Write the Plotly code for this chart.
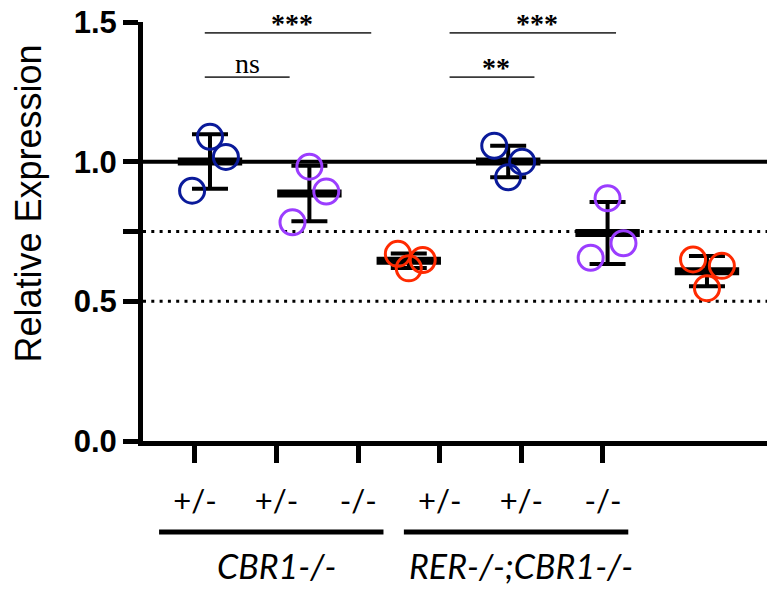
import numpy as np
import plotly.graph_objects as go

# ---- data -------------------------------------------------------------
genotypes = ["+/-", "+/-", "-/-", "+/-", "+/-", "-/-"]
backgrounds = ["CBR1-/-", "RER-/-;CBR1-/-"]
background_members = [[1, 2, 3], [4, 5, 6]]

g1 = [1.089, 1.017, 0.896]
g2 = [0.982, 0.893, 0.783]
g3 = [0.670, 0.648, 0.618]
g4 = [1.057, 1.000, 0.944]
g5 = [0.869, 0.708, 0.656]
g6 = [0.650, 0.627, 0.547]
groups = [g1, g2, g3, g4, g5, g6]

# horizontal spread of the replicate points inside each column
jitter = [
    [0.0, 0.16, -0.18],
    [0.0, 0.17, -0.17],
    [-0.11, 0.14, 0.0],
    [-0.14, 0.14, 0.0],
    [0.0, 0.16, -0.17],
    [-0.14, 0.15, 0.0],
]
group_colors = ["#0a1a9a", "#9b3dff", "#ff2a00", "#0a1a9a", "#9b3dff", "#ff2a00"]

# significance comparisons: (first column, last column, bar height, label)
comparisons = [
    (1, 3, 1.461, "***"),
    (1, 2, 1.303, "ns"),
    (4, 6, 1.461, "***"),
    (4, 5, 1.303, "**"),
]

ref_solid = [1.0]
ref_dotted = [0.75, 0.5]

y_ticks = [0.0, 0.5, 0.75, 1.0, 1.5]
y_ticktext = ["0.0", "0.5", "", "1.0", "1.5"]

# ---- figure -----------------------------------------------------------
fig = go.Figure()

positions = np.arange(1, len(groups) + 1)
means = [float(np.mean(g)) for g in groups]
sds = [float(np.std(g, ddof=1)) for g in groups]

# mean bar with SD whiskers
fig.add_trace(go.Scatter(
    x=positions, y=means, xaxis="x2", mode="markers",
    marker=dict(symbol="line-ew", size=46, color="black",
                line=dict(width=8, color="black")),
    error_y=dict(type="data", array=sds, visible=True,
                 color="black", thickness=4, width=18),
    showlegend=False, hoverinfo="skip",
))

# replicate points
for pos, vals, jit, col in zip(positions, groups, jitter, group_colors):
    fig.add_trace(go.Scatter(
        x=[pos + j for j in jit], y=vals, xaxis="x2", mode="markers",
        marker=dict(symbol="circle-open", size=25, color=col,
                    line=dict(width=3, color=col)),
        showlegend=False,
    ))

shapes = []
for yv in ref_solid:
    shapes.append(dict(type="line", xref="paper", yref="y", x0=0, x1=1,
                       y0=yv, y1=yv, layer="below",
                       line=dict(color="black", width=4)))
for yv in ref_dotted:
    shapes.append(dict(type="line", xref="paper", yref="y", x0=0, x1=1,
                       y0=yv, y1=yv, layer="below",
                       line=dict(color="black", width=3, dash="3px,5.3px")))

annotations = []
for a, b, yv, lab in comparisons:
    x0, x1 = a + 0.12, b + 0.16
    shapes.append(dict(type="line", xref="x", yref="y", x0=x0, x1=x1,
                       y0=yv, y1=yv, line=dict(color="#3a3a3a", width=1.8)))
    if lab == "ns":
        annotations.append(dict(x=(x0 + x1) / 2, y=yv, xref="x", yref="y",
                                text=lab, showarrow=False, yanchor="bottom",
                                yshift=-4,
                                font=dict(family="Liberation Serif", size=28,
                                          color="black")))
    else:
        annotations.append(dict(x=(x0 + x1) / 2 + 0.05, y=yv, xref="x", yref="y",
                                text=lab, showarrow=False, yanchor="bottom",
                                yshift=-8,
                                font=dict(family="Liberation Serif", size=28,
                                          color="black", weight="bold")))

# background brackets and names under the tick labels
for name, members in zip(backgrounds, background_members):
    shapes.append(dict(type="line", xref="x", yref="paper",
                       x0=members[0] - 0.44, x1=members[-1] + 0.31,
                       y0=-0.217, y1=-0.217,
                       line=dict(color="black", width=5)))
    annotations.append(dict(x=float(np.mean(members)), y=-0.297, xref="x",
                            yref="paper", text=name, showarrow=False,
                            yanchor="middle",
                            font=dict(family="Lato", size=34, color="black",
                                      style="italic")))

annotations.append(dict(x=-0.184, y=0.567, xref="paper", yref="paper",
                        text="Relative Expression", textangle=-90,
                        xanchor="center", yanchor="middle",
                        showarrow=False,
                        font=dict(family="Liberation Sans", size=36,
                                  color="black")))

fig.update_layout(
    width=767, height=592,
    margin=dict(l=143, r=0, t=22, b=151, pad=0),
    paper_bgcolor="white", plot_bgcolor="white",
    shapes=shapes, annotations=annotations,
    xaxis=dict(range=[0.363, 8.01], tickmode="array",
               tickvals=list(positions), ticktext=genotypes,
               showline=True, linecolor="black", linewidth=5,
               ticks="outside", ticklen=17, tickwidth=5, tickcolor="black",
               ticklabelstandoff=12,
               tickfont=dict(family="Lato", size=31, color="black"),
               showgrid=False, zeroline=False, fixedrange=True),
    xaxis2=dict(range=[0.326, 6.604], overlaying="x", anchor="y",
                visible=False, showgrid=False, zeroline=False),
    yaxis=dict(range=[0, 1.5], tickmode="array", tickvals=y_ticks,
               ticktext=y_ticktext,
               showline=True, linecolor="black", linewidth=5,
               ticks="outside", ticklen=15, tickwidth=5, tickcolor="black",
               ticklabelstandoff=0,
               tickfont=dict(family="Liberation Sans", size=31, color="black",
                             weight="bold"),
               showgrid=False, zeroline=False),
)

fig.write_html("out.html")
